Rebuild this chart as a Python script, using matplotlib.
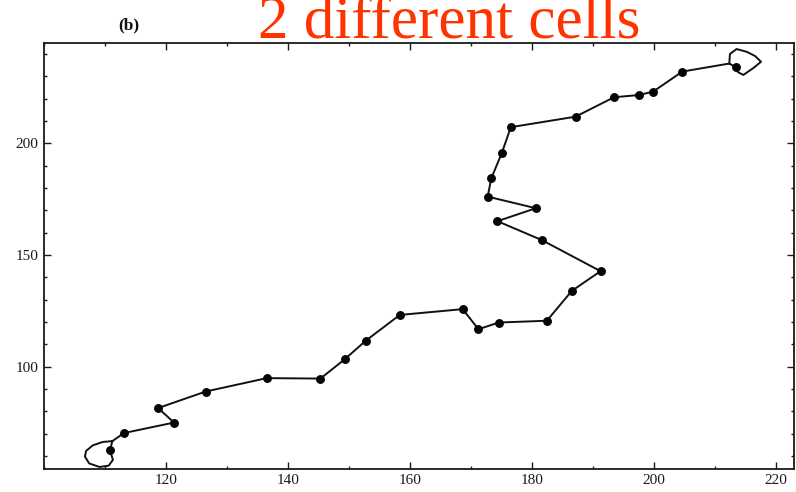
import matplotlib
matplotlib.use("Agg")
import matplotlib.pyplot as plt
from matplotlib.ticker import MultipleLocator

# Cell positions
cell_x = [110.8, 113.1, 121.3, 118.7, 126.5, 136.5, 145.3, 149.3, 152.7, 158.3,
          168.6, 171.2, 174.5, 182.4, 186.5, 191.2, 181.6, 174.3, 180.6, 172.7,
          173.3, 175.0, 176.5, 187.1, 193.4, 197.5, 199.8, 204.6, 213.4]
cell_y = [62.4, 70.2, 74.9, 81.4, 88.8, 94.8, 94.6, 103.3, 111.5, 123.1,
          125.7, 116.7, 119.7, 120.5, 133.9, 142.7, 156.6, 165.1, 170.9, 176.1,
          184.3, 195.5, 207.2, 211.9, 220.6, 221.6, 223.1, 232.1, 234.0]

# Loop traced around the first cell (from junction, around, back to junction)
start_loop_x = [111.2, 110.8, 111.3, 110.6, 109.1, 107.4, 106.7, 106.9, 108.0, 109.6, 111.2]
start_loop_y = [66.6, 62.4, 58.2, 55.6, 55.0, 56.6, 59.7, 62.2, 64.7, 66.2, 66.6]

# Loop traced around the last cell
end_loop_x = [212.3, 212.4, 213.5, 215.2, 216.5, 217.5, 216.2, 214.6, 213.7, 213.4, 212.3]
end_loop_y = [235.7, 240.0, 242.2, 240.9, 239.1, 236.5, 233.6, 230.6, 231.9, 234.0, 235.7]

x_major = [120, 140, 160, 180, 200, 220]
y_major = [100, 150, 200]

title_text = "2 different cells"
panel_label = "(b)"

plt.rcParams['font.family'] = ['Liberation Serif', 'DejaVu Serif']

fig = plt.figure(figsize=(7.96, 4.92), dpi=100)
ax = fig.add_axes([44/796, (492-469)/492, (794-44)/796, (469-43)/492])

path_x = start_loop_x + cell_x[1:-1] + end_loop_x
path_y = start_loop_y + cell_y[1:-1] + end_loop_y
ax.plot(path_x, path_y, color='#111111', lw=1.4, solid_joinstyle='round',
        solid_capstyle='round', zorder=2)
ax.plot(cell_x, cell_y, 'o', color='#050505', ms=5.4, zorder=3)

ax.set_xlim(100, 222.9)
ax.set_ylim(54.1, 244.9)
ax.set_xticks(x_major)
ax.set_yticks(y_major)
ax.xaxis.set_minor_locator(MultipleLocator(10))
ax.yaxis.set_minor_locator(MultipleLocator(10))
ax.tick_params(which='both', direction='in', top=True, right=True,
               colors='#1a1a1a', labelsize=11, width=1.0)
ax.tick_params(which='major', length=5)
ax.tick_params(which='minor', length=2.5)
ax.tick_params(axis='x', pad=3.5)
ax.tick_params(axis='y', pad=4)
for s in ax.spines.values():
    s.set_linewidth(1.3)
    s.set_color('#1a1a1a')

fig.text(449/796, (492-38)/492, title_text, color='#ff3300', fontsize=44,
         ha='center', va='baseline')
fig.text(129/796, (492-29)/492, panel_label, color='#111111', fontsize=12.5,
         fontweight='bold', ha='center', va='baseline')

fig.savefig('out.png', dpi=100)
